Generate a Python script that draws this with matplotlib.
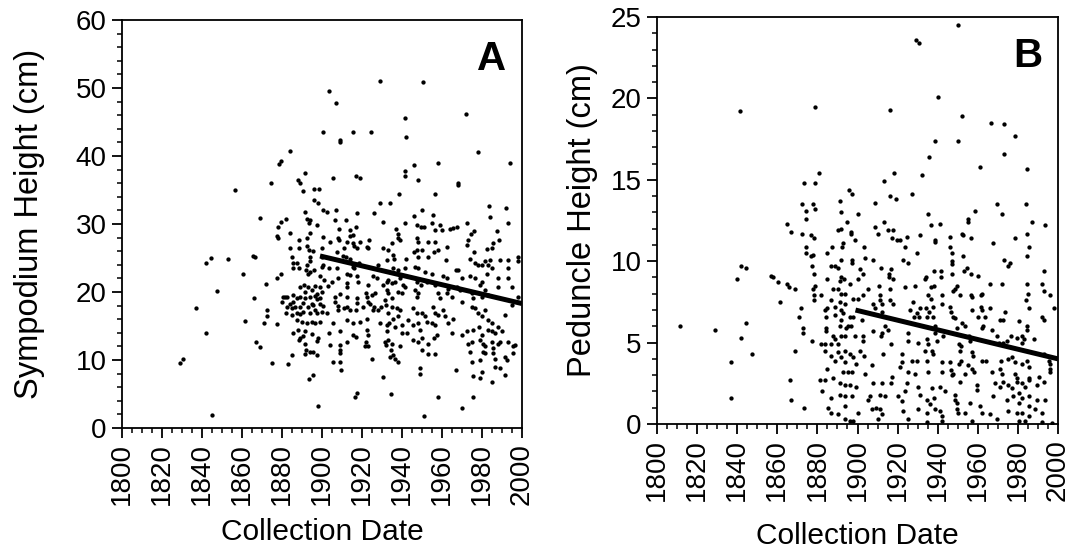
import matplotlib
matplotlib.use('Agg')
import matplotlib.pyplot as plt
from matplotlib.ticker import MultipleLocator

plt.rcParams['font.family'] = ['Liberation Sans', 'DejaVu Sans']

# (collection year, sympodium height cm)
sympodium = [
    (1829, 9.6), (1830.7, 10.1), (1837.2, 17.7), (1841.8, 14.0), (1841.8, 24.3), (1844.7, 25.0),
    (1844.8, 1.9), (1847.3, 20.1), (1853, 24.8), (1856.7, 35.0), (1860.5, 22.6), (1861.5, 15.7),
    (1929.2, 51.1), (1950.7, 50.9), (1903.3, 49.5), (1907, 47.8), (1972.2, 46.2), (1941.3, 45.6),
    (1900.3, 43.6), (1915.3, 43.6), (1924.5, 43.6), (1942.2, 42.8), (1908.8, 42.4), (1908.8, 42.0),
    (1951, 1.8),
    # 1864-1934
    (1884, 40.7), (1879.3, 39.3), (1878.3, 38.8), (1891.5, 37.5), (1874.5, 36.1), (1887.8, 36.5),
    (1889, 36.1), (1905.3, 36.7), (1917, 37.0), (1919, 36.7), (1890.3, 34.8), (1896.2, 35.1),
    (1898.7, 35.1),
    (1896, 33.6), (1897.8, 33.1), (1929, 33.1), (1900.7, 32.1), (1902.7, 31.8), (1907, 32.1),
    (1917.3, 31.6), (1926, 31.6), (1869, 30.9), (1882, 30.8), (1879.3, 30.3), (1878.2, 29.5),
    (1877.7, 28.2), (1891.5, 31.7), (1892.7, 30.8), (1894, 30.6), (1893.7, 30.1), (1906.5, 30.6),
    (1912, 30.6), (1930.7, 30.3), (1897.3, 29.9), (1917, 29.5), (1908.7, 29.2), (1914, 29.1),
    (1884, 28.7), (1894, 28.7),
    (1878.2, 27.9), (1888.7, 27.6), (1892.3, 28.0), (1900.3, 28.1), (1904, 27.4), (1908.2, 27.9),
    (1908.7, 27.6), (1912.3, 27.4), (1914, 28.2), (1915.3, 28.4), (1915.7, 27.2), (1919, 27.4),
    (1923.7, 27.6), (1884, 26.5), (1888.7, 26.4), (1892.7, 26.7), (1893.7, 26.2), (1895.3, 26.1),
    (1899.8, 26.4), (1907.7, 25.9), (1911, 26.4), (1916, 26.8), (1917.3, 26.4), (1922.3, 26.6),
    (1923.2, 26.4), (1930.7, 26.4), (1865.7, 25.3), (1866.5, 25.1), (1884.8, 25.1), (1894, 25.2),
    (1899.8, 25.2), (1910.7, 25.3), (1912, 25.2), (1914, 24.9), (1915.3, 23.7),
    (1885.7, 24.3), (1887.3, 24.2), (1894, 24.6), (1892.7, 24.0), (1900.3, 24.0), (1903.7, 23.6),
    (1907.7, 23.5), (1916, 23.6), (1918.7, 24.2), (1928.2, 24.0), (1932.3, 24.7), (1888.7, 23.5),
    (1885.7, 23.5), (1892, 23.3), (1893.2, 22.6), (1894, 23.0), (1896, 23.3), (1899.8, 23.7),
    (1899, 22.3), (1901, 21.8), (1904.8, 21.5), (1908.2, 22.0), (1912.3, 22.7), (1914, 22.5),
    (1917.3, 22.3), (1912.3, 21.3), (1918.2, 21.4), (1925.7, 22.3), (1927.7, 22.0), (1879.3, 22.6),
    (1877.3, 22.0), (1872, 21.2), (1889, 20.8), (1891, 21.0), (1893.2, 20.8), (1896.5, 20.9),
    (1899, 20.8), (1903.2, 20.9), (1912.3, 20.8), (1923.2, 21.0), (1930.3, 21.0), (1932.3, 21.5),
    (1891.5, 20.0), (1894.8, 20.3), (1897.3, 19.7), (1899.8, 20.0), (1866.2, 19.1), (1880.7, 19.3),
    (1882.3, 19.2), (1885.7, 19.6), (1887.3, 19.1), (1889, 19.3), (1891.5, 19.1), (1894, 19.3),
    (1896.5, 19.4), (1897.3, 18.9), (1899, 19.1), (1906.5, 19.3), (1909, 19.7), (1912.3, 19.3),
    (1922, 19.8), (1922.7, 19.3), (1924.8, 19.6), (1926.5, 19.8), (1932.7, 20.3), (1917.3, 19.1),
    (1879.8, 18.6), (1881.5, 19.3), (1884, 18.3), (1885.7, 18.6), (1890.7, 18.4), (1894.8, 18.3),
    (1882.3, 17.8), (1884.8, 17.6), (1886.5, 17.8), (1889, 17.8), (1893.2, 17.8), (1895.7, 18.1),
    (1899, 18.2), (1900.7, 17.9), (1906.5, 18.6), (1908.2, 17.9), (1912.3, 17.8), (1917.3, 18.4),
    (1923.2, 18.6), (1924, 18.2), (1926, 17.8), (1928.2, 17.4), (1929.3, 17.8), (1932, 18.1),
    (1882, 16.9), (1884.8, 16.6), (1887.3, 16.9), (1889, 16.8), (1890.7, 17.1), (1894, 16.9),
    (1896.5, 17.4), (1897.3, 16.9), (1899.8, 17.1), (1902.3, 16.9), (1908.2, 17.4), (1911, 17.6),
    (1914, 17.4), (1917, 17.4), (1920.7, 17.8), (1925.7, 17.3), (1887.3, 15.9), (1889.8, 15.6),
    (1892.3, 15.4), (1894.8, 15.6), (1896.5, 15.4), (1899, 15.6), (1905.7, 15.4), (1912.3, 15.9),
    (1915.7, 15.4), (1919, 15.6), (1922.3, 16.1), (1929, 15.4), (1932.3, 15.1), (1871, 15.4),
    (1877.3, 15.3), (1872.3, 17.4), (1872.7, 16.4),
    (1885.7, 14.0), (1888.2, 14.4), (1891.5, 14.2), (1889, 13.2), (1890.7, 13.5), (1894.8, 13.8),
    (1903.7, 14.0), (1909, 14.2), (1915.7, 13.7), (1917, 13.4), (1922.3, 14.4), (1923.2, 13.7),
    (1932.3, 14.2), (1867, 12.7), (1869, 11.9), (1884.8, 10.7), (1888.7, 13.0), (1891.5, 12.4),
    (1897.3, 12.8), (1898.2, 13.2), (1904, 12.2), (1909, 12.2), (1909, 11.5), (1909, 11.0),
    (1912.7, 12.7), (1921.5, 12.0), (1922, 12.7), (1923.2, 12.0), (1931.5, 12.7), (1932, 12.2),
    (1892, 11.5), (1894, 11.2), (1895.7, 11.2), (1891.5, 10.9), (1897.3, 10.7), (1905.7, 9.7),
    (1909, 9.7), (1909.3, 8.6), (1924.8, 10.2), (1874.8, 9.6), (1883.2, 9.4), (1934, 10.5),
    (1895.3, 7.8), (1893.7, 7.2), (1930.7, 7.5), (1917.3, 5.2), (1916.5, 4.6), (1898.2, 3.2),
    # 1934-2000
    (1977.8, 40.6), (1946.2, 38.7), (1958.2, 39.0), (1994, 39.0), (1941.5, 37.8), (1941.5, 37.1),
    (1947.8, 36.5), (1967.8, 36.0), (1967.8, 35.7), (1938.7, 34.4), (1956.5, 34.4),
    (1934, 33.1), (1983.5, 32.6), (1991.8, 32.3), (1949.8, 32.1), (1946.2, 31.2), (1955.7, 31.3),
    (1984, 31.0), (1941.5, 30.2), (1947.3, 29.9), (1949.5, 29.5), (1951.2, 29.6), (1954.8, 30.2),
    (1956.5, 29.1), (1959, 29.9), (1960.2, 29.1), (1964, 29.2), (1965.7, 29.4), (1967.3, 29.6),
    (1972.3, 30.2), (1993.2, 30.2), (1976.2, 29.0), (1974.5, 28.5), (1936.8, 29.2), (1938.2, 28.6),
    (1987.3, 28.9),
    (1937.8, 27.9), (1934.8, 27.2), (1939, 27.6), (1947.3, 27.9), (1948.2, 27.4), (1953.2, 27.3),
    (1956.5, 27.4), (1958.2, 26.2), (1962.3, 26.6), (1956.2, 25.9), (1949.8, 26.2), (1947.3, 26.2),
    (1946.2, 25.9), (1972.8, 27.6), (1972.3, 26.9), (1976.2, 25.9), (1982.3, 26.3), (1984.8, 26.4),
    (1988.5, 27.6), (1985.7, 27.2), (1932.8, 26.2), (1935.7, 25.4), (1936.2, 24.9), (1941.8, 24.8),
    (1948.2, 25.2), (1953.2, 25.1), (1961.8, 24.7), (1974, 24.9), (1976.5, 24.2), (1978.2, 24.0),
    (1979.8, 24.0), (1981.5, 24.5), (1983.2, 24.0), (1984, 24.7), (1989, 24.7), (1993.2, 24.7),
    (1997.8, 25.2), (1997.8, 24.5),
    (1935.7, 23.5), (1937.8, 23.2), (1941.5, 23.5), (1946.5, 23.7), (1948.2, 23.5), (1951.5, 23.0),
    (1954.8, 22.7), (1960.7, 22.3), (1962.3, 22.0), (1969.8, 22.0), (1966.8, 23.3), (1968.2, 23.2),
    (1974, 22.3), (1976.5, 22.0), (1979.8, 21.5), (1979, 21.0), (1982.3, 22.7), (1984.8, 23.5),
    (1988.2, 22.0), (1993.2, 23.5), (1993.2, 22.0), (1994.8, 20.7), (1933.2, 21.8), (1934.8, 21.3),
    (1936.5, 21.5), (1939, 22.0), (1940.7, 21.0), (1941.5, 20.8), (1947.3, 21.5), (1949.5, 21.0),
    (1952.3, 21.5), (1946.5, 20.3), (1948.2, 19.8), (1947.3, 19.3), (1956.5, 21.0), (1958.2, 19.8),
    (1959, 19.1), (1963.2, 20.5), (1962.3, 19.8), (1964.8, 19.3), (1967.3, 20.8), (1969, 20.3),
    (1969.8, 18.6), (1974.8, 19.8), (1975.7, 19.1), (1979.8, 19.3), (1981.5, 20.3), (1983.2, 19.6),
    (1988.2, 20.8), (1994.8, 18.1), (1998.2, 19.3), (1933.2, 19.8), (1934.8, 19.1), (1938.2, 20.0),
    (1939.8, 19.8), (1931.5, 18.8),
    (1934.8, 17.8), (1937.3, 17.6), (1932.8, 16.9), (1935.7, 16.1), (1939, 17.4), (1938.2, 16.4),
    (1945.7, 17.6), (1947.3, 16.9), (1949.8, 16.9), (1951.5, 16.4), (1955.7, 17.8), (1956.5, 16.9),
    (1958.2, 16.6), (1960.7, 17.4), (1961.5, 16.4), (1965.7, 16.1), (1974.8, 17.8), (1976.5, 17.6),
    (1978.2, 16.9), (1979.8, 16.4), (1981.5, 17.4), (1983.2, 15.9), (1984.8, 15.4), (1988.2, 14.9),
    (1991.5, 16.6), (1933.5, 15.4), (1936.5, 14.9), (1939.8, 15.1), (1943.2, 15.9), (1945.7, 15.1),
    (1948.2, 15.4), (1949, 14.4), (1952.3, 15.6), (1954.8, 15.4), (1956.5, 15.1), (1963.2, 15.4),
    (1964.8, 13.9), (1969.8, 13.7), (1972.3, 14.2), (1975.7, 14.4), (1978.5, 14.9), (1979.8, 13.7),
    (1983.2, 14.4), (1984.8, 14.2), (1986.5, 13.9), (1989.8, 14.2), (1939.8, 13.9), (1942.3, 13.9),
    (1933.2, 12.9), (1934.8, 12.4), (1934.5, 11.5), (1935.7, 10.7), (1936.5, 10.2), (1938.2, 9.7),
    (1939, 12.0), (1945.7, 12.9), (1948.2, 12.7), (1949.8, 13.2), (1953.2, 12.4), (1956.2, 13.2),
    (1957.3, 13.7), (1973.2, 12.4), (1975.2, 12.7), (1979, 12.9), (1980.7, 12.4), (1981.5, 12.0),
    (1984.8, 12.7), (1985.7, 11.7), (1988.2, 12.4), (1989, 12.7), (1993.2, 12.7), (1995.7, 12.0),
    (1996.5, 12.2), (1995.7, 11.0), (1974, 11.2), (1974.8, 9.7), (1979, 10.0), (1980.7, 11.2),
    (1981.5, 11.0), (1985.7, 11.0), (1986.5, 10.2), (1991.5, 10.5), (1992.3, 10.0), (1949.8, 11.5),
    (1953.2, 10.9), (1956.5, 10.9),
    (1949, 8.8), (1949, 8.0), (1966.8, 8.6), (1975.7, 7.6), (1979.8, 8.3), (1979, 7.3),
    (1984.8, 6.8), (1986.5, 9.0), (1989, 8.8), (1991.5, 7.8), (1934.5, 5.0), (1957.8, 4.5),
    (1975.7, 4.5), (1969.8, 2.9),
]

# (collection year, peduncle height cm)
peduncle = [
    (1811.7, 6.0), (1828.7, 5.8), (1841.3, 19.2), (1839.7, 8.9), (1841.7, 9.7), (1844.5, 9.6),
    (1837, 3.8), (1837, 1.6), (1841.7, 5.3), (1844.5, 6.2), (1847.5, 4.3), (1856.7, 9.1),
    (1857.7, 9.0), (1860.3, 8.7), (1861.3, 7.5), (1864.8, 12.3), (1866.8, 11.8), (1864.8, 8.6),
    (1866, 8.4), (1866.2, 2.7),
    (1950.3, 24.5), (1929, 23.6), (1930.8, 23.4), (1878.7, 19.5), (1916.2, 19.3), (1940.3, 20.1),
    (1952.3, 18.9), (1966.5, 18.5), (1973, 18.4), (1978.7, 17.7), (1938.7, 17.4), (1950.3, 17.4),
    (1973, 16.6), (1935.7, 16.4), (1961, 15.8), (1984.5, 15.65), (1880.8, 15.4), (1918, 15.4),
    (1932, 15.3),
    # 1867-1933
    (1873.3, 14.8), (1878.7, 14.8), (1913.3, 14.9), (1895.7, 14.4), (1897.5, 14.1), (1916.2, 14.0),
    (1919, 13.8), (1927.3, 14.1), (1891.2, 13.7), (1908.7, 13.6), (1872.3, 13.5), (1877.8, 13.5),
    (1878.7, 13.2), (1874.3, 13.1), (1892, 13.0), (1900.3, 12.9),
    (1874.3, 12.6), (1894.8, 12.4), (1913.3, 12.4), (1892, 12.0), (1890.3, 11.9), (1908.7, 12.1),
    (1896.7, 11.8), (1896.7, 11.7), (1910, 11.7), (1915.3, 11.9), (1917.5, 11.9), (1872.3, 11.7),
    (1877, 11.6), (1878.3, 11.4), (1917, 11.4), (1919.7, 11.3), (1921.2, 11.3), (1924.5, 11.5),
    (1931.2, 11.6), (1898.7, 11.3), (1892.8, 11.1), (1874.5, 10.9), (1887.3, 10.9), (1903.3, 10.9),
    (1892.3, 10.9), (1885, 10.5), (1874.5, 10.5), (1877.8, 10.4), (1877, 10.3), (1923.7, 10.9),
    (1929.5, 10.5), (1891.7, 10.1), (1897.5, 10.1), (1903.7, 10.2), (1907.8, 10.1), (1922.8, 10.1),
    (1925.3, 9.9), (1897.3, 9.9), (1886.7, 9.7), (1888.7, 9.7), (1890.3, 9.6), (1877.3, 9.7),
    (1911.7, 9.6), (1916.7, 9.5), (1901.2, 9.5), (1915.7, 9.2), (1915.7, 9.0), (1917.8, 8.9),
    (1902.8, 9.2), (1900.3, 8.9), (1878.3, 9.2), (1885, 8.9), (1892, 9.0), (1891.2, 8.8),
    (1893.2, 8.9), (1933.7, 8.9),
    (1868.7, 8.3), (1878.7, 8.5), (1877.8, 8.3), (1887.8, 8.3), (1890.3, 8.3), (1896.2, 8.6),
    (1905.3, 8.3), (1910.7, 8.5), (1916.2, 8.3), (1923.7, 8.4), (1928.7, 8.5), (1892, 8.0),
    (1893.7, 8.0), (1882, 7.9), (1878.3, 7.9), (1878.3, 7.6), (1886.7, 7.6), (1891.2, 7.5),
    (1897.8, 7.7), (1900.3, 7.7), (1902.5, 7.9), (1911.2, 7.9), (1911.2, 7.6), (1916.2, 7.6),
    (1917.8, 7.4), (1907.8, 7.4), (1912, 7.4), (1927.8, 7.5), (1872, 7.1), (1884, 7.0),
    (1885, 7.1), (1888.7, 7.2), (1893.7, 7.4), (1892, 7.0), (1908.7, 7.1), (1912, 6.9),
    (1926.2, 7.0), (1929.5, 6.8), (1931.2, 7.1),
    (1870.7, 6.6), (1884.2, 6.6), (1888.7, 6.7), (1892.8, 6.8), (1892, 6.4), (1896.2, 6.6),
    (1897.8, 6.6), (1902, 6.4), (1928.3, 6.6), (1930.7, 6.6), (1895.3, 6.0), (1897, 6.0),
    (1891.2, 6.0), (1894.5, 5.9), (1872.8, 5.9), (1872.8, 5.6), (1884.2, 5.9), (1884.5, 5.7),
    (1913.7, 6.0), (1915.3, 5.8), (1925, 5.6), (1912, 5.6), (1911.7, 5.4), (1907.8, 5.7),
    (1887.8, 5.4), (1892, 5.4), (1893.7, 5.4), (1898.7, 5.4), (1902.5, 5.4), (1888.7, 5.2),
    (1902.8, 5.1), (1916.7, 4.9), (1925.3, 5.1), (1930.3, 5.0), (1877.3, 5.1), (1882, 4.9),
    (1883.7, 4.9), (1887, 4.9), (1890.3, 4.9),
    (1869, 4.5), (1883.7, 4.5), (1890.3, 4.4), (1893.7, 4.5), (1901.2, 4.5), (1887, 4.2),
    (1888.7, 3.9), (1892, 4.1), (1893.7, 3.8), (1896.2, 4.3), (1897.8, 4.1), (1899.5, 3.7),
    (1903.3, 4.2), (1912.8, 4.3), (1922, 4.3), (1922, 3.8), (1927, 3.9), (1929.5, 3.9),
    (1933.7, 4.5), (1907, 3.6), (1921.2, 3.5), (1885, 3.4), (1892.8, 3.2), (1895.3, 3.2),
    (1897.3, 3.2), (1903.7, 3.1), (1925.3, 3.2), (1928.7, 3.1), (1917, 2.9),
    (1881.2, 2.7), (1883.7, 2.7), (1887.8, 2.8), (1891.2, 2.5), (1893.7, 2.4), (1896.2, 2.4),
    (1899.5, 2.3), (1907.8, 2.5), (1912, 2.5), (1916.7, 2.5), (1924.5, 2.5), (1930, 2.3),
    (1882.3, 2.0), (1887, 1.6), (1891.2, 1.8), (1893.7, 1.7), (1897.3, 1.7), (1906.2, 1.7),
    (1911.2, 1.8), (1913.7, 1.7), (1920.3, 1.7), (1923.7, 2.0), (1931.2, 1.8), (1867, 1.5),
    (1905.3, 1.5), (1922, 1.4), (1893.7, 1.1), (1907, 0.9), (1909, 1.0), (1911.2, 0.9),
    (1873.3, 1.0), (1885.3, 1.0), (1922.8, 0.8), (1887, 0.7), (1890.3, 0.6), (1900.3, 0.7),
    (1912.3, 0.6), (1930.3, 0.9), (1893.7, 0.3), (1896.2, 0.2), (1897.8, 0.2), (1910.3, 0.3),
    (1925.3, 0.3),
    # 1934-2000
    (1969.5, 13.5), (1984, 13.5), (1958.7, 13.1), (1972, 12.9), (1935, 12.9),
    (1955.3, 12.6), (1987, 12.4), (1955.3, 12.4), (1936.7, 12.2), (1941.2, 12.3), (1993.7, 12.2),
    (1952.3, 11.7), (1952.8, 11.6), (1946.2, 11.5), (1956.7, 11.4), (1984.5, 11.7), (1978.7, 11.4),
    (1938.7, 11.3), (1938.7, 11.2), (1967.5, 11.1), (1985.3, 10.9), (1946.2, 10.9),
    (1947, 10.5), (1947, 10.0), (1947, 9.8), (1952.8, 10.3), (1973.3, 10.1), (1976.2, 9.9),
    (1975, 9.7), (1984.5, 10.3), (1954.5, 9.6), (1953.3, 9.4), (1956.7, 9.2), (1960, 9.1),
    (1947, 9.2), (1938.2, 9.4), (1941.7, 9.4), (1934, 9.0), (1941.7, 9.0), (1992.8, 9.4),
    (1938.3, 8.5), (1936.7, 8.4), (1949.5, 8.5), (1948.7, 8.3), (1947.8, 8.2), (1966.2, 8.6),
    (1972.3, 8.6), (1984.5, 8.6), (1992, 8.6), (1935.3, 7.9), (1936.7, 7.7), (1942, 7.9),
    (1951.2, 7.9), (1956.7, 7.9), (1957, 7.8), (1962, 8.0), (1961.7, 7.9), (1985, 8.0),
    (1984, 7.6), (1992.8, 8.2), (1996.2, 7.9), (1934.3, 7.1), (1935.7, 6.9), (1937.8, 7.2),
    (1946.2, 7.2), (1946.7, 6.9), (1957, 7.0), (1961.7, 7.2), (1962.3, 7.0), (1966.2, 7.1),
    (1973.7, 6.9), (1985.3, 7.1), (1997.8, 7.1), (1942, 7.4),
    (1934.5, 6.6), (1937.8, 6.6), (1947.8, 6.6), (1948.7, 6.5), (1953.7, 6.0), (1952, 6.2),
    (1960, 6.6), (1963.7, 6.6), (1962.8, 6.0), (1962, 5.9), (1967, 5.8), (1971.2, 6.4),
    (1972.8, 6.4), (1980.3, 6.3), (1984.5, 6.0), (1984.5, 5.8), (1992, 6.6), (1992.8, 6.4),
    (1938.7, 6.0), (1934.5, 5.2), (1935.3, 4.9), (1938.7, 5.6), (1939.5, 5.1), (1942.8, 5.4),
    (1949.5, 5.9), (1950.7, 4.9), (1951.7, 4.8), (1955.7, 5.4), (1956.2, 5.1), (1976.7, 5.4),
    (1979.5, 5.3), (1982, 5.4), (1982.8, 5.2), (1982, 5.0), (1970.7, 5.0), (1972.8, 5.0),
    (1974.5, 5.1), (1987.8, 5.2), (1969.5, 5.4),
    (1937, 4.5), (1937.8, 4.3), (1934.5, 3.9), (1951.2, 4.5), (1951.7, 3.9), (1950.8, 3.7),
    (1957, 4.4), (1957.8, 4.2), (1955.3, 3.6), (1962, 3.9), (1964, 3.9), (1942, 3.8),
    (1946.2, 3.8), (1971.7, 3.9), (1975, 4.0), (1977, 4.1), (1978.7, 3.8), (1982, 3.7),
    (1984.5, 3.9), (1985.3, 3.5), (1992.8, 4.3), (1995.3, 3.9), (1996.2, 3.7), (1935, 3.2),
    (1942, 3.2), (1946.7, 3.3), (1947.8, 3.1), (1947, 3.0), (1953.7, 3.1), (1957, 3.4),
    (1958.3, 3.2), (1967, 3.2), (1971.2, 3.4), (1972, 3.1), (1978.7, 3.1), (1979.5, 2.8),
    (1985.3, 2.8), (1996.2, 3.4), (1996.2, 3.2), (1990.7, 2.9),
    (1937, 2.2), (1941.2, 2.3), (1943.7, 2.0), (1951.2, 2.6), (1959.5, 2.4), (1959.5, 2.1),
    (1968.7, 2.5), (1971.2, 2.3), (1972.8, 2.6), (1975.3, 2.4), (1977, 2.2), (1979.5, 2.6),
    (1982, 2.5), (1983.7, 2.3), (1985.3, 2.7), (1989.5, 2.4), (1992.8, 2.6), (1934.5, 1.5),
    (1936.2, 1.2), (1938.3, 1.6), (1948.7, 1.8), (1948.7, 1.5), (1949.5, 1.3), (1956.2, 1.3),
    (1961.2, 1.1), (1967.8, 1.7), (1974.5, 1.5), (1977.8, 1.7), (1980.3, 1.9), (1980.3, 1.3),
    (1982, 1.6), (1985.3, 1.7), (1985.3, 1.1), (1989.5, 1.5), (1993.7, 1.5), (1934.5, 0.7),
    (1938.7, 0.9), (1941.2, 0.8), (1942, 0.5), (1949.5, 0.9), (1950.3, 0.7), (1953.7, 0.7),
    (1962, 0.7), (1966.2, 0.6), (1969.5, 0.3), (1975.3, 0.8), (1979.5, 0.7), (1982, 0.7),
    (1985.3, 0.5), (1988.7, 0.9), (1992, 0.7), (1934.5, 0.1), (1942, 0.2), (1957, 0.2),
    (1980.3, 0.2), (1983.7, 0.2), (1992, 0.1), (1997, 0.05),
]

fit_years = [1899, 2000]
sympodium_fit = [25.3, 18.3]
peduncle_fit = [7.0, 4.0]

# letter, data, fit, y label, ymax, major, minor, axes rect, ylabel pad, xlabel pad
panels = [
    ('A', sympodium, sympodium_fit, 'Sympodium Height (cm)', 60, 10, 2,
     [122 / 1074, 1 - 428 / 553, 400 / 1074, 408 / 553], 22, 9),
    ('B', peduncle, peduncle_fit, 'Peduncle Height (cm)', 25, 5, 1,
     [657 / 1074, 1 - 424 / 553, 401 / 1074, 407 / 553], 9, 15),
]

fig = plt.figure(figsize=(10.74, 5.53), dpi=100)

for letter, pts, fit, ylabel, ymax, ymaj, ymin, rect, ypad, xpad in panels:
    ax = fig.add_axes(rect)
    xs = [p[0] for p in pts]
    ys = [p[1] for p in pts]
    ax.plot(xs, ys, 'o', color='black', markersize=3.1, markeredgewidth=0)
    ax.plot(fit_years, fit, color='black', linewidth=3.6, solid_capstyle='butt')

    ax.set_xlim(1800, 2000)
    ax.set_ylim(0, ymax)
    ax.xaxis.set_major_locator(MultipleLocator(20))
    ax.xaxis.set_minor_locator(MultipleLocator(5))
    ax.yaxis.set_major_locator(MultipleLocator(ymaj))
    ax.yaxis.set_minor_locator(MultipleLocator(ymin))
    ax.tick_params(which='major', direction='out', length=7, width=1.3, labelsize=20, pad=4)
    ax.tick_params(which='minor', direction='out', length=3.5, width=1.1)
    for lab in ax.get_xticklabels():
        lab.set_rotation(90)
    for sp in ax.spines.values():
        sp.set_linewidth(1.3)

    ax.set_xlabel('Collection Date', fontsize=21.5, labelpad=xpad)
    ax.set_ylabel(ylabel, fontsize=23.5, labelpad=ypad)
    ax.text(0.96, 0.877, letter, transform=ax.transAxes, ha='right', va='baseline',
            fontsize=29, fontweight='bold')

fig.savefig('out.png', dpi=100)
